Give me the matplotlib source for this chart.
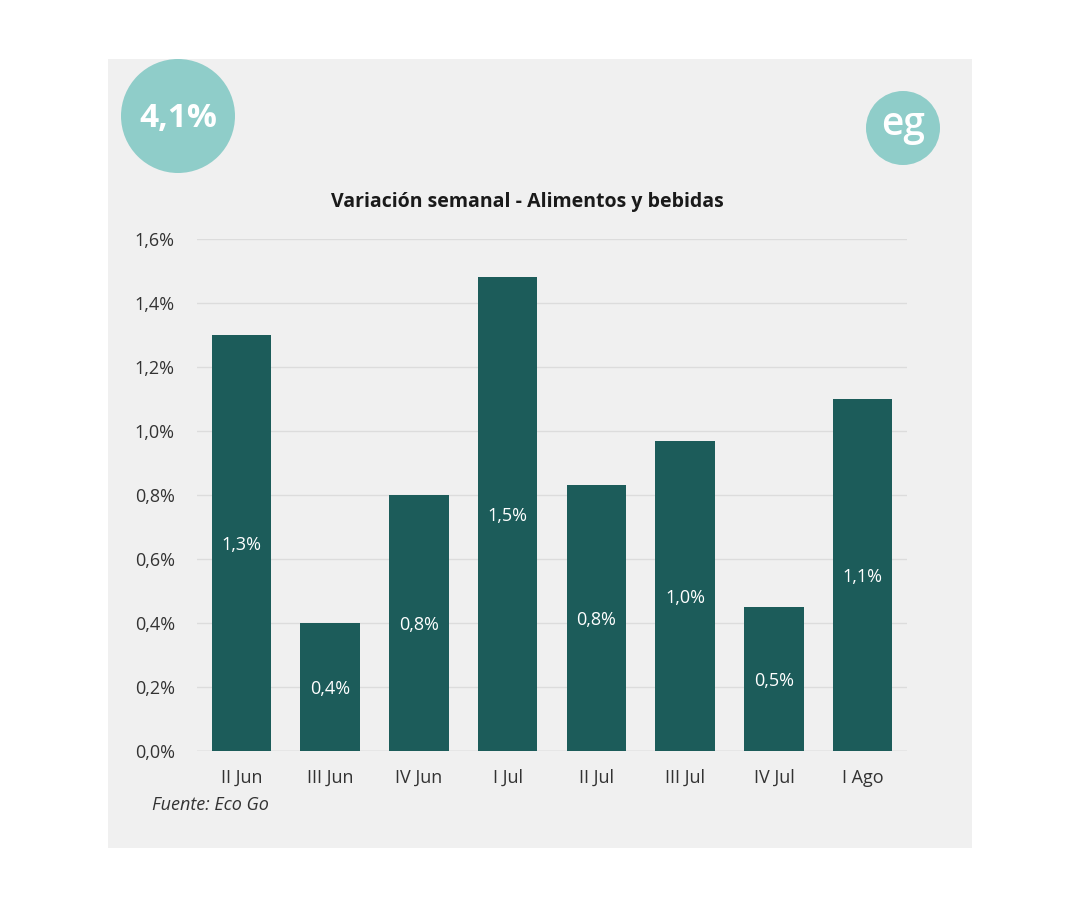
import matplotlib.pyplot as plt
from matplotlib.patches import Rectangle, Ellipse

plt.rcParams['font.family'] = ['Open Sans', 'DejaVu Sans']

weeks = ["II Jun", "III Jun", "IV Jun", "I Jul", "II Jul", "III Jul", "IV Jul", "I Ago"]
values = [1.30, 0.40, 0.80, 1.48, 0.83, 0.97, 0.45, 1.10]
labels = ["1,3%", "0,4%", "0,8%", "1,5%", "0,8%", "1,0%", "0,5%", "1,1%"]
yticks = [0.0, 0.2, 0.4, 0.6, 0.8, 1.0, 1.2, 1.4, 1.6]

W, H = 1080, 907
fig = plt.figure(figsize=(W / 100, H / 100), dpi=100)
fig.patch.set_facecolor("white")

# gray panel
fig.patches.append(Rectangle((108 / W, 1 - 848 / H), (972 - 108) / W, (848 - 59) / H,
                             transform=fig.transFigure, facecolor="#f0f0f0",
                             edgecolor="none", zorder=-2))

# big circle with total
fig.patches.append(Ellipse((178 / W, 1 - 116 / H), 114 / W, 114 / H,
                           transform=fig.transFigure, facecolor="#8fcdc9",
                           edgecolor="none", zorder=-1))
fig.text(178 / W, 1 - 118 / H, "4,1%", ha="center", va="center", color="white",
         fontsize=24, fontweight="bold", zorder=2)

# logo
fig.patches.append(Ellipse((903 / W, 1 - 128 / H), 74 / W, 74 / H,
                           transform=fig.transFigure, facecolor="#8fcdc9",
                           edgecolor="none", zorder=-1))
fig.text(903 / W, 1 - 125 / H, "eg", ha="center", va="center", color="white",
         fontsize=28, fontweight="semibold", zorder=2)

ax = fig.add_axes([197 / W, 1 - 751 / H, (907 - 197) / W, (751 - 239) / H])
ax.set_zorder(1)
ax.set_facecolor("none")
x = range(len(weeks))
bars = ax.bar(x, values, width=0.67, color="#1c5c5a", zorder=3)
for i, (v, lab) in enumerate(zip(values, labels)):
    ax.text(i, v / 2, lab, ha="center", va="center_baseline", color="white",
            fontsize=13, zorder=4)

ax.set_xlim(-0.5, len(weeks) - 0.5)
ax.set_ylim(0, 1.6)
ax.set_yticks(yticks)
ax.set_yticklabels([f"{t:.1f}%".replace(".", ",") for t in yticks])
ax.set_xticks(list(x))
ax.set_xticklabels(weeks)
ax.tick_params(axis="both", length=0, labelsize=13, labelcolor="#333333")
ax.tick_params(axis="y", pad=16)
ax.tick_params(axis="x", pad=13)
ax.grid(axis="y", color="#dcdcdc", linewidth=1, zorder=0)
for s in ax.spines.values():
    s.set_visible(False)
ax.axhline(0, color="#d0d0d0", linewidth=1, zorder=2)

fig.text(527 / W, 1 - 202 / H, "Variación semanal - Alimentos y bebidas", ha="center",
         va="center", fontsize=14, fontweight="bold", color="#1a1a1a")
fig.text(152 / W, 1 - 805 / H, "Fuente: Eco Go", ha="left", va="center",
         fontsize=13, fontstyle="italic", color="#333333")

fig.savefig("out.png", dpi=100)
